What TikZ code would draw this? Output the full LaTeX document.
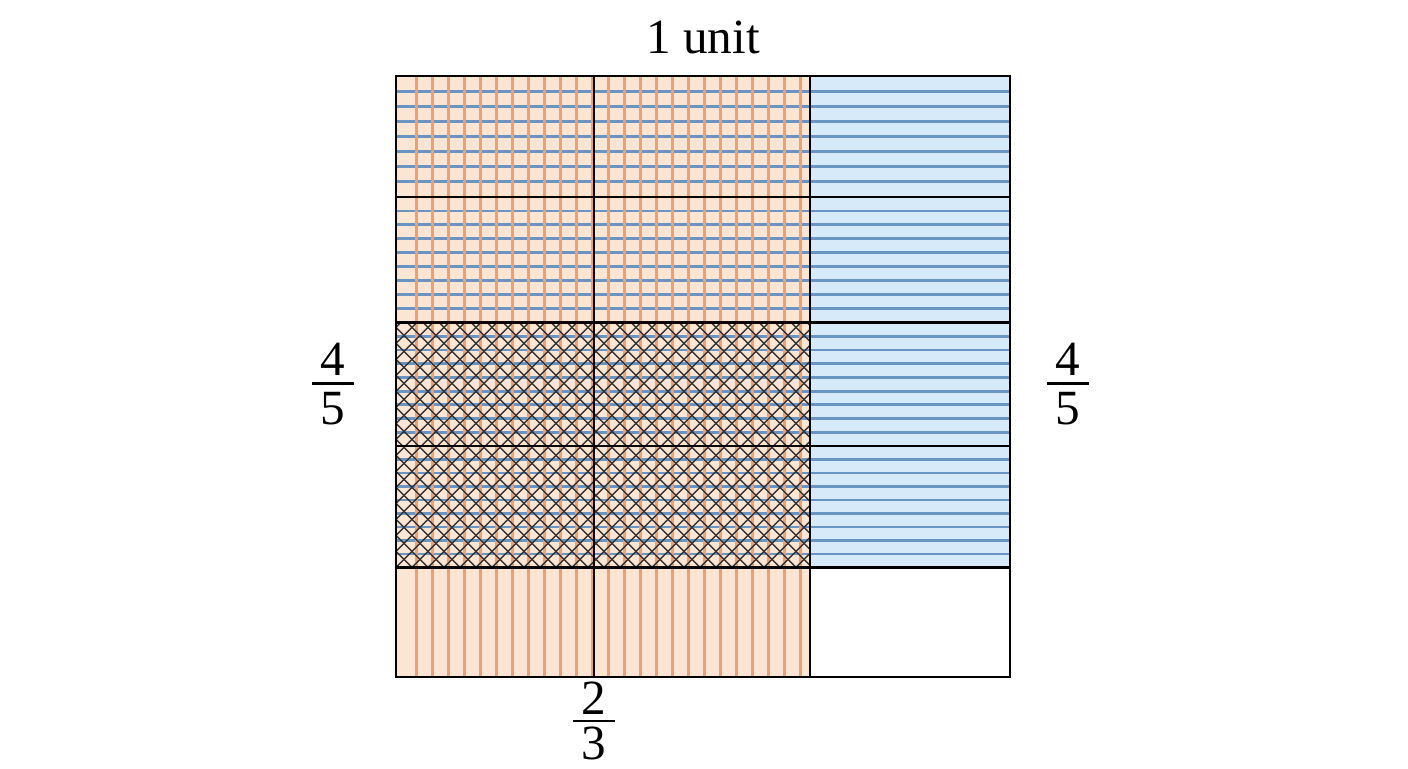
\documentclass[tikz,border=0pt]{standalone}
\usepackage{fontspec}
\setmainfont{Liberation Serif}
\definecolor{arancio}{HTML}{FDE5D4}
\definecolor{arancioriga}{HTML}{F0A070}
\definecolor{azzurro}{HTML}{D6EAF9}
\definecolor{azzurroriga}{HTML}{6A95C2}

\begin{document}
\begin{tikzpicture}[
    griglia/.style={line width=2pt, black},
    rigaor/.style={line width=1.9pt, arancioriga},
    rigaaz/.style={line width=2pt, azzurroriga},
    incrocio/.style={line width=1.1pt, black!80},
    etichetta/.style={font=\fontsize{35}{35}\selectfont, inner sep=0pt},
    frazione/.style={etichetta, align=center},
    barra/.style={line width=2pt}
  ]
  \useasboundingbox (-9.9,-2.275) rectangle (25.3,16.925);

  % Sfondi
  \fill[arancio] (0,0) rectangle (10.35,15.025);
  \fill[azzurro] (10.35,2.74) rectangle (15.35,15.025);

  % Righe orizzontali
  \foreach \a/\b/\n/\m in {2.74/5.775/9/8, 5.775/8.86/9/8, 8.86/12/9/8, 12/15.025/8/7} {
    \foreach \k in {1,...,\m}
      \draw[rigaaz] (0,{\a+\k*(\b-\a)/\n}) -- (15.35,{\a+\k*(\b-\a)/\n});
  }

  % Righe verticali
  \foreach \k in {0,...,24}
    \draw[rigaor] ({0.52+0.4*\k},0) -- ({0.52+0.4*\k},15.025);

  % Tratteggio incrociato
  \begin{scope}
    \clip (0,2.74) rectangle (10.35,8.86);
    \foreach \k in {-16,...,42}
      \draw[incrocio] (0.4*\k,2.74) -- ++(6.12,6.12)
                      (0.4*\k,2.74) -- ++(-6.12,6.12);
  \end{scope}

  % Griglia
  \draw[griglia] (0,0) rectangle (15.35,15.025);
  \foreach \x in {4.95,10.35} \draw[griglia] (\x,0) -- (\x,15.025);
  \foreach \y in {2.74,5.775,8.86,12} \draw[griglia] (0,\y) -- (15.35,\y);

  % Etichette
  \node[etichetta, anchor=base] (unita) at (7.675,15.59) {1 unit};
  \node[frazione] (sx) at (-1.575,7.33) {4\\5};
  \node[frazione] (dx) at (16.79,7.33) {4\\5};
  \node[frazione, font=\fontsize{35}{32}\selectfont] (basso) at (4.94,-1.1) {2\\3};
  \foreach \f in {sx,dx,basso}
    \draw[barra] ([xshift=-5.25mm]\f.center) -- ([xshift=5.25mm]\f.center);
\end{tikzpicture}
\end{document}
